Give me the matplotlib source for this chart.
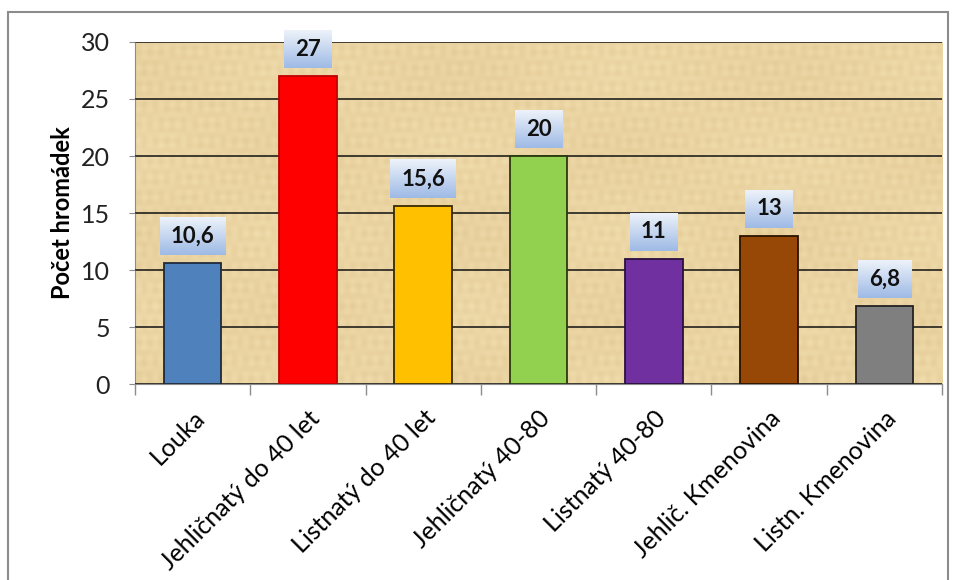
import numpy as np
import matplotlib
matplotlib.use("Agg")
import matplotlib.pyplot as plt
from matplotlib.patches import Rectangle

plt.rcParams['font.family'] = ['Lato', 'DejaVu Sans']

categories = ["Louka", "Jehličnatý do 40 let", "Listnatý do 40 let", "Jehličnatý 40-80",
              "Listnatý 40-80", "Jehlič. Kmenovina", "Listn. Kmenovina"]
values = [10.6, 27, 15.6, 20, 11, 13, 6.8]
value_labels = ["10,6", "27", "15,6", "20", "11", "13", "6,8"]
bar_colors = ["#4F81BD", "#FF0000", "#FFC000", "#92D050", "#7030A0", "#974706", "#7F7F7F"]
edge_colors = ["#1F2A3A", "#C00000", "#3A2A00", "#2A3A10", "#2A1040", "#2A1400", "#222222"]

fig = plt.figure(figsize=(9.56, 5.8), dpi=100)
ax = fig.add_axes([0.1412, 0.3379, 0.8442, 0.5897])

# outer frame of the chart
fig.patches.append(Rectangle((8 / 956, -0.01), 940 / 956, 1 - 12 / 580 + 0.01,
                             transform=fig.transFigure, fill=False,
                             edgecolor="#8C8C8C", linewidth=1.5))

# papyrus-like background for the plot area
yy, xx = np.mgrid[0:160, 0:500]
tex = (0.5 + 0.22 * np.sin(xx * 0.9) * np.sin(yy * 0.37)
       + 0.18 * np.sin(xx * 0.13 + yy * 0.05) * np.cos(yy * 1.3)
       + 0.15 * np.sin(xx * 0.031 + 1.7) * np.sin(yy * 0.083 + 0.4))
base = np.array([0.945, 0.865, 0.68])
dark = np.array([0.84, 0.73, 0.50])
img = base[None, None, :] * (1 - 0.5 * tex[..., None]) + dark[None, None, :] * 0.5 * tex[..., None]
ax.imshow(img, extent=(-0.5, 6.5, 0, 30), aspect="auto", zorder=0, interpolation="bilinear")

x = np.arange(len(categories))
ax.bar(x, values, width=0.5, color=bar_colors, edgecolor=edge_colors, linewidth=1.3, zorder=3)

ax.set_xlim(-0.5, 6.5)
ax.set_ylim(0, 30)

# value labels in gradient boxes above the bars
grad = np.linspace(0, 1, 50)[:, None]
top_c = np.array([0.62, 0.73, 0.90])
bot_c = np.array([0.93, 0.95, 0.98])
grad_img = top_c[None, None, :] * (1 - grad[..., None]) + bot_c[None, None, :] * grad[..., None]
px_per_unit = 0.5897 * 580 / 30
px_per_x = 0.8442 * 956 / 7
gap = 8 / px_per_unit
box_h = 38 / px_per_unit
renderer = fig.canvas.get_renderer()
for xi, v, lab in zip(x, values, value_labels):
    y0 = v + gap
    t = ax.text(xi, y0 + box_h / 2, lab, ha="center", va="center", fontsize=16,
                fontweight="bold", color="#111111", zorder=5, clip_on=False)
    tw = t.get_window_extent(renderer).width / px_per_x
    box_w = tw + 22 / px_per_x
    im = ax.imshow(grad_img, extent=(xi - box_w / 2, xi + box_w / 2, y0, y0 + box_h),
                   aspect="auto", zorder=4, origin="lower")
    im.set_clip_on(False)

ax.set_xlim(-0.5, 6.5)
ax.set_ylim(0, 30)
ax.set_yticks(range(0, 31, 5))
ax.yaxis.grid(True, color="#111111", linewidth=1.1)
ax.set_axisbelow(False)
for gl in ax.get_ygridlines():
    gl.set_zorder(1)

ax.set_xticks(x)
ax.set_xticklabels(categories, rotation=45, ha="right", rotation_mode="anchor", fontsize=18)
ax.set_xticks(np.arange(-0.5, 7, 1), minor=True)
ax.tick_params(axis="x", which="major", length=0, pad=16)
ax.tick_params(axis="x", which="minor", length=8, color="#8C8C8C", width=1)
ax.tick_params(axis="y", labelsize=18, length=4, color="#8C8C8C", pad=14, labelcolor="#222222")

for side in ["top", "right"]:
    ax.spines[side].set_visible(False)
ax.spines["left"].set_color("#8C8C8C")
ax.spines["bottom"].set_color("#8C8C8C")

ax.set_ylabel("Počet hromádek", fontsize=17, fontweight="bold")
ax.yaxis.set_label_coords(-0.076, 0.5)

fig.savefig("out.png", dpi=100)
